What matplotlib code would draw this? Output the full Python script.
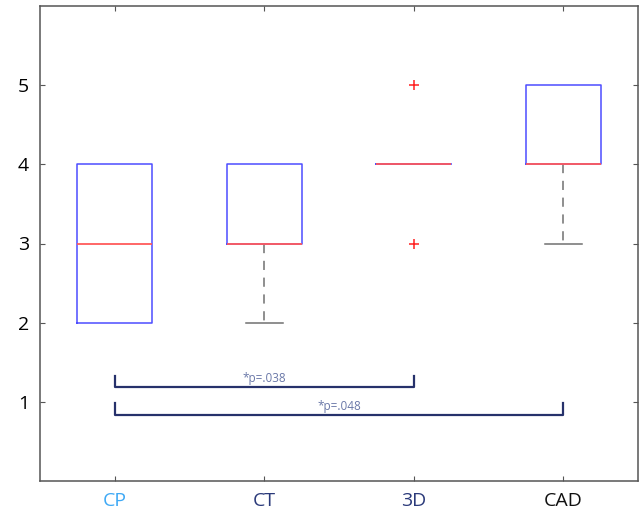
import numpy as np
import matplotlib
matplotlib.use("Agg")
import matplotlib.pyplot as plt

# box plot stats
groups = ["CP", "CT", "3D", "CAD"]
q1 = [2, 3, 4, 4]
med = [3, 3, 4, 4]
q3 = [4, 4, 4, 5]
whislo = [2, 2, 4, 3]
whishi = [4, 4, 4, 5]
fliers = [[], [], [3, 5], []]
label_colors = ["#3fa9f5", "#2b3a7a", "#2b3a7a", "#111111"]

# significance brackets: (from group, to group, y, text)
sig_from = [1, 1]
sig_to = [3, 4]
sig_y = [1.19, 0.84]
sig_text = ["*p=.038", "*p=.048"]

plt.rcParams["font.family"] = ["Open Sans", "DejaVu Sans"]

fig = plt.figure(figsize=(6.41, 5.13), dpi=100)
ax = fig.add_axes([40 / 641, 32 / 513, 598 / 641, 475 / 513])

stats = []
for i in range(len(groups)):
    stats.append({
        "med": med[i], "q1": q1[i], "q3": q3[i],
        "whislo": whislo[i], "whishi": whishi[i],
        "fliers": fliers[i], "label": groups[i],
    })

bp = ax.bxp(stats, positions=[1, 2, 3, 4], widths=0.5, showfliers=True,
            boxprops=dict(color="#4d4dff", linewidth=1.1),
            medianprops=dict(color="#ff5a5a", linewidth=1.3),
            whiskerprops=dict(color="#707070", linestyle=(0, (6, 5)), linewidth=1.1),
            capprops=dict(color="#707070", linewidth=1.1),
            capwidths=0.25,
            flierprops=dict(marker="+", markeredgecolor="#ff2020", markersize=7,
                            markeredgewidth=1.1, linestyle="none"))

# hide caps that sit on the box edge (matlab style)
for i in range(len(groups)):
    lo_cap = bp["caps"][2 * i]
    hi_cap = bp["caps"][2 * i + 1]
    if whislo[i] == q1[i]:
        lo_cap.set_visible(False)
    if whishi[i] == q3[i]:
        hi_cap.set_visible(False)
    bp["boxes"][i].set_zorder(3)
    bp["medians"][i].set_zorder(4)

# brackets
for a, b, y, t in zip(sig_from, sig_to, sig_y, sig_text):
    ax.plot([a, a, b, b], [y + 0.14, y, y, y + 0.14], color="#26316b", linewidth=1.6)
    ax.text((a + b) / 2, y + 0.02, t, ha="center", va="bottom",
            fontsize=8.5, color="#6a78a8")

ax.set_xlim(0.5, 4.5)
ax.set_ylim(0, 6)
ax.set_yticks([1, 2, 3, 4, 5])
ax.set_xticks([1, 2, 3, 4])
ax.set_xticklabels(groups)
for lbl, c in zip(ax.get_xticklabels(), label_colors):
    lbl.set_color(c)
ax.tick_params(direction="in", top=True, right=True, labelsize=14,
               length=3.5, color="#555555", pad=8)
ax.tick_params(axis="y", pad=8)
for s in ax.spines.values():
    s.set_color("#555555")
    s.set_linewidth(1.1)

fig.savefig("out.png", dpi=100)
